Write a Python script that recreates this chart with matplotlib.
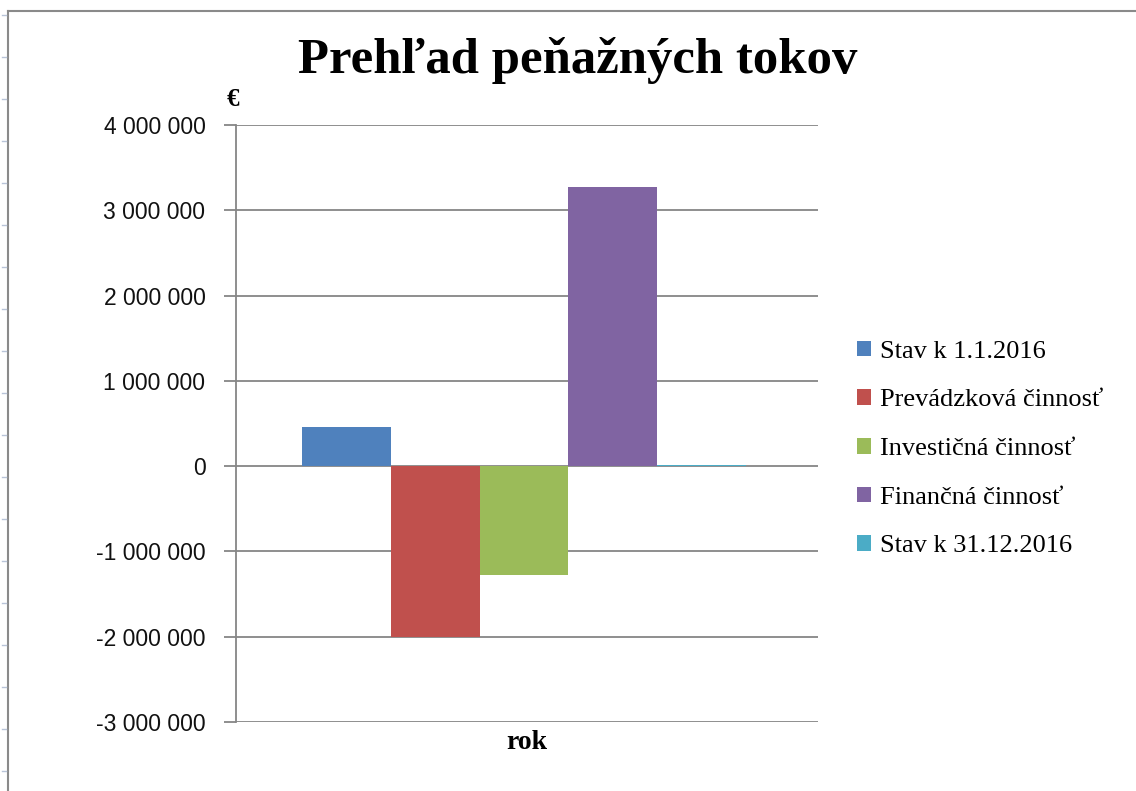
import matplotlib
matplotlib.use("Agg")
import matplotlib.pyplot as plt
from matplotlib.lines import Line2D
from matplotlib.ticker import FuncFormatter

categories = ["rok"]
series_names = ["Stav k 1.1.2016", "Prevádzková činnosť", "Investičná činnosť",
                "Finančná činnosť", "Stav k 31.12.2016"]
values = [455000, -2000000, -1278000, 3270000, 12000]
colors = ["#4F81BD", "#C0504D", "#9BBB59", "#8064A2", "#4BACC6"]
yticks = [-3000000, -2000000, -1000000, 0, 1000000, 2000000, 3000000, 4000000]

W, H = 1136, 791
fig = plt.figure(figsize=(W / 100, H / 100), dpi=100)
fig.patch.set_facecolor("white")

# outer chart frame (left and top edges visible)
fig.add_artist(Line2D([8 / W, 8 / W], [0, 1 - 11 / H], color="#8a8a8a", lw=1.5))
fig.add_artist(Line2D([8 / W, 1], [1 - 11 / H, 1 - 11 / H], color="#8a8a8a", lw=1.5))
for yp in range(15, H, 42):
    fig.add_artist(Line2D([2 / W, 6 / W], [1 - yp / H, 1 - yp / H], color="#b8c4d8", lw=1))

ax = fig.add_axes([236 / W, 69 / H, 582 / W, 597 / H])

n = len(values)
group_w = 0.763
bw = group_w / n
offset = -0.005
for i, (name, v, c) in enumerate(zip(series_names, values, colors)):
    x = offset - group_w / 2 + bw * (i + 0.5)
    ax.bar(x, v, width=bw, color=c, label=name, zorder=3, edgecolor="none")

ax.set_xlim(-0.5, 0.5)
ax.set_ylim(yticks[0], yticks[-1])
ax.set_yticks(yticks)
ax.yaxis.set_major_formatter(FuncFormatter(lambda v, p: f"{int(v):,}".replace(",", " ")))
ax.grid(axis="y", color="#868686", lw=1.3, zorder=1)
ax.set_axisbelow(False)
for s in ["top", "right", "bottom"]:
    ax.spines[s].set_visible(False)
ax.spines["left"].set_color("#868686")
ax.spines["left"].set_linewidth(1.3)
ax.tick_params(axis="y", length=9, width=1.3, color="#868686", pad=13,
               labelsize=16.5, labelcolor="#111111")
for lab in ax.get_yticklabels():
    lab.set_fontfamily("Liberation Sans")
ax.set_xticks([0])
ax.set_xticklabels(categories, fontfamily="Liberation Serif", fontweight="bold", fontsize=20)
ax.tick_params(axis="x", length=0, pad=6)

fig.text(578 / W, 1 - 61 / H, "Prehľad peňažných tokov", ha="center", va="center",
         fontfamily="Liberation Serif", fontweight="bold", fontsize=36.5)
fig.text(233 / W, 1 - 100 / H, "€", ha="center", va="center",
         fontfamily="Liberation Serif", fontweight="bold", fontsize=18)

leg = ax.legend(loc="center left", bbox_to_anchor=(833 / W, 1 - 449 / H),
                bbox_transform=fig.transFigure, frameon=False,
                prop={"family": "Liberation Serif", "size": 19},
                handlelength=0.55, handleheight=0.55, handletextpad=0.35,
                labelspacing=1.0)

fig.savefig("out.png", dpi=100, facecolor="white")
